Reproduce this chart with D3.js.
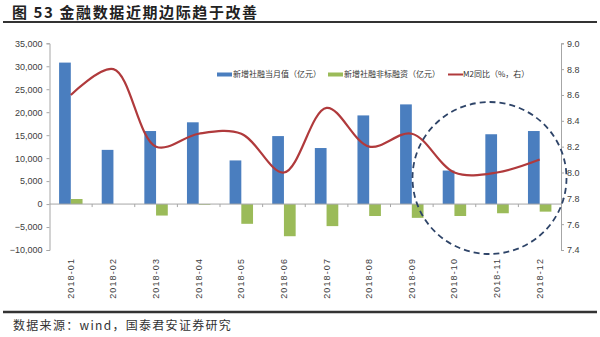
<!DOCTYPE html>
<html>
<head>
<meta charset="utf-8">
<script src="https://cdn.jsdelivr.net/npm/d3@7"></script>
<style>
  html, body { margin: 0; padding: 0; background: #fff; }
  svg { display: block; }
  text { font-family: "Liberation Sans", Arial, sans-serif; }
  .cjk { font-family: "Noto Sans CJK SC", sans-serif; }
</style>
</head>
<body>
<svg id="chart" width="600" height="337"></svg>
<script>
// Monthly data, 2018
const months = ["2018-01","2018-02","2018-03","2018-04","2018-05","2018-06",
                "2018-07","2018-08","2018-09","2018-10","2018-11","2018-12"];
// 新增社融当月值（亿元）
const tsfMonthly = [30800, 11800, 15900, 17800, 9500, 14800, 12200, 19300, 21700, 7300, 15200, 15900];
// 新增社融非标融资（亿元）
const nonStandard = [1100, 0, -2500, -150, -4300, -7000, -4800, -2600, -3000, -2600, -2000, -1650];
// M2同比（%，右）
const m2Yoy = [8.6, 8.8, 8.2, 8.3, 8.3, 8.0, 8.5, 8.2, 8.3, 8.0, 8.0, 8.1];

const leftTicks = [-10000, -5000, 0, 5000, 10000, 15000, 20000, 25000, 30000, 35000];
const rightTicks = [7.4, 7.6, 7.8, 8.0, 8.2, 8.4, 8.6, 8.8, 9.0];

const seriesNames = ["新增社融当月值（亿元）", "新增社融非标融资（亿元）", "M2同比（%，右）"];
const title = "图 53 金融数据近期边际趋于改善";
const source = "数据来源：wind，国泰君安证券研究";

const colors = { blue: "#4a7ebf", green: "#9bbb59", red: "#b03a3c", axis: "#a6a6a6", text: "#404040" };

const svg = d3.select("#chart");
const plot = { left: 49.5, right: 561, top: 43.3, bottom: 250 };

const x = d3.scaleBand().domain(months).range([plot.left, plot.right])
  .paddingInner(0.45).paddingOuter(0.225);
const yL = d3.scaleLinear().domain([-10000, 35000]).range([plot.bottom, plot.top]);
const yR = d3.scaleLinear().domain([7.4, 9.0]).range([plot.bottom, plot.top]);
const bw = x.bandwidth() / 2;
const cx = d => x(d) + x.bandwidth() / 2;

// Title and rules
svg.append("text").attr("class", "cjk").attr("x", 12).attr("y", 18)
  .attr("font-size", 15).attr("font-weight", 700).attr("fill", "#222")
  .attr("letter-spacing", 1.6).text(title);
svg.append("line").attr("x1", 3).attr("x2", 597).attr("y1", 22).attr("y2", 22)
  .attr("stroke", "#333").attr("stroke-width", 2);
svg.append("line").attr("x1", 3).attr("x2", 597).attr("y1", 312).attr("y2", 312)
  .attr("stroke", "#333").attr("stroke-width", 2.5);
svg.append("text").attr("class", "cjk").attr("x", 13).attr("y", 330)
  .attr("font-size", 12).attr("fill", "#333").attr("letter-spacing", 1.3).text(source);

// Left axis
const axL = svg.append("g").attr("transform", `translate(${plot.left},0)`)
  .call(d3.axisLeft(yL).tickValues(leftTicks).tickSize(3).tickPadding(4)
    .tickFormat(d3.format(",")));
axL.select(".domain").attr("stroke", colors.axis);
axL.selectAll(".tick line").attr("stroke", colors.axis);
axL.selectAll(".tick text").attr("font-size", 9).attr("fill", colors.text)
  .attr("font-family", "Liberation Sans, Arial, sans-serif");

// Right axis
const axR = svg.append("g").attr("transform", `translate(${plot.right},0)`)
  .call(d3.axisRight(yR).tickValues(rightTicks).tickSize(3).tickPadding(3)
    .tickFormat(d3.format(".1f")));
axR.select(".domain").attr("stroke", colors.axis);
axR.selectAll(".tick line").attr("stroke", colors.axis);
axR.selectAll(".tick text").attr("font-size", 9).attr("fill", colors.text)
  .attr("font-family", "Liberation Sans, Arial, sans-serif");

// Bars
svg.append("g").selectAll("rect").data(months).join("rect")
  .attr("x", d => x(d)).attr("width", bw)
  .attr("y", (d, i) => yL(Math.max(0, tsfMonthly[i])))
  .attr("height", (d, i) => Math.abs(yL(tsfMonthly[i]) - yL(0)))
  .attr("fill", colors.blue);
svg.append("g").selectAll("rect").data(months).join("rect")
  .attr("x", d => x(d) + bw).attr("width", bw)
  .attr("y", (d, i) => yL(Math.max(0, nonStandard[i])))
  .attr("height", (d, i) => Math.abs(yL(nonStandard[i]) - yL(0)))
  .attr("fill", colors.green);

// Zero baseline with tick marks between categories
const zero = yL(0);
svg.append("line").attr("x1", plot.left).attr("x2", plot.right)
  .attr("y1", zero).attr("y2", zero).attr("stroke", colors.axis);
const gap = x.step() * x.paddingInner() / 2;
svg.append("g").selectAll("line").data(months.slice(1)).join("line")
  .attr("x1", d => x(d) - gap).attr("x2", d => x(d) - gap)
  .attr("y1", zero).attr("y2", zero + 3).attr("stroke", colors.axis);

// Category labels, rotated
svg.append("g").selectAll("text").data(months).join("text")
  .attr("transform", d => `translate(${cx(d) + 3},${plot.bottom + 8}) rotate(-90)`)
  .attr("text-anchor", "end").attr("font-size", 9).attr("letter-spacing", 1.1)
  .attr("fill", colors.text).text(d => d);

// M2 line (smoothed)
const line = d3.line().x((d, i) => cx(months[i])).y(d => yR(d)).curve(d3.curveCatmullRom.alpha(0.5));
svg.append("path").datum(m2Yoy).attr("d", line).attr("fill", "none")
  .attr("stroke", colors.red).attr("stroke-width", 2.2);

// Highlight circle around recent months
svg.append("ellipse").attr("cx", 489.5).attr("cy", 178).attr("rx", 77).attr("ry", 76)
  .attr("fill", "none").attr("stroke", "#2e4468").attr("stroke-width", 1.8)
  .attr("stroke-dasharray", "6,4");

// Legend
const lg = svg.append("g").attr("class", "cjk").attr("font-size", 8).attr("fill", "#333");
lg.append("rect").attr("x", 217).attr("y", 72.5).attr("width", 15).attr("height", 4).attr("fill", colors.blue);
lg.append("text").attr("x", 233).attr("y", 77).attr("class", "cjk").text(seriesNames[0]);
lg.append("rect").attr("x", 328).attr("y", 72.5).attr("width", 15).attr("height", 4).attr("fill", colors.green);
lg.append("text").attr("x", 344).attr("y", 77).attr("class", "cjk").text(seriesNames[1]);
lg.append("line").attr("x1", 448).attr("x2", 463).attr("y1", 74.5).attr("y2", 74.5)
  .attr("stroke", colors.red).attr("stroke-width", 2);
lg.append("text").attr("x", 463).attr("y", 77).attr("class", "cjk").text(seriesNames[2]);
</script>
</body>
</html>
